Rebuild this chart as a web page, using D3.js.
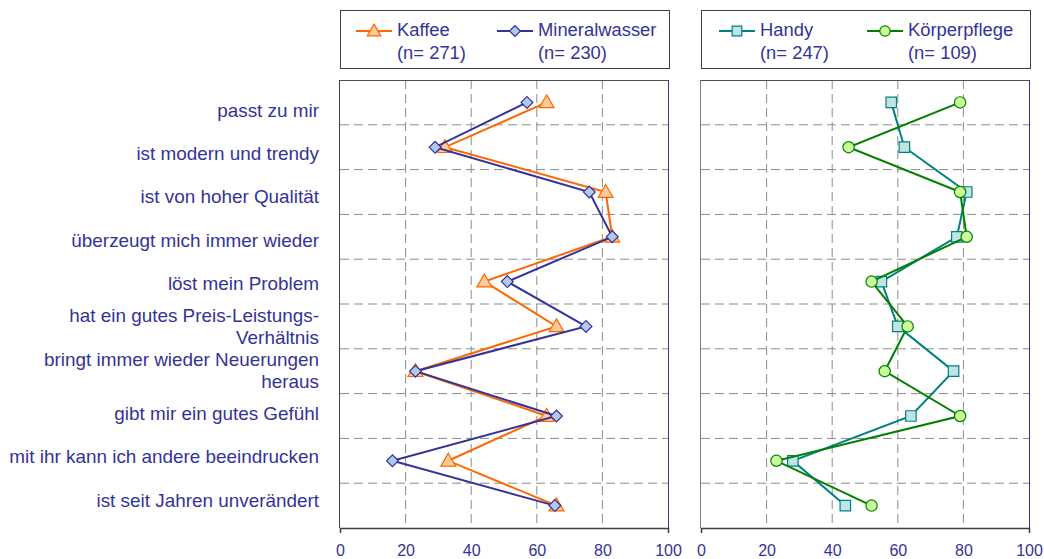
<!DOCTYPE html>
<html>
<head>
<meta charset="utf-8">
<script src="https://cdn.jsdelivr.net/npm/d3@7"></script>
<style>
    body { margin: 0; background: #fff; }
    text { font-family: "Liberation Sans", Arial, sans-serif; }
</style>
</head>
<body>
<script>
(function(){

    //categories (top to bottom)
    var categories = ["passt zu mir", "ist modern und trendy", "ist von hoher Qualität", "überzeugt mich immer wieder",
        "löst mein Problem", "hat ein gutes Preis-Leistungs-|Verhältnis", "bringt immer wieder Neuerungen|heraus",
        "gibt mir ein gutes Gefühl", "mit ihr kann ich andere beeindrucken", "ist seit Jahren unverändert"];

    //series values (percent)
    var kaffee = [63, 32, 81, 83, 44, 66, 23, 63, 33, 66];
    var mineralwasser = [57, 29, 76, 83, 51, 75, 23, 66, 16, 65.5];
    var handy = [58, 62, 81, 78, 55, 60, 77, 64, 28, 44];
    var koerperpflege = [79, 45, 79, 81, 52, 63, 56, 79, 23, 52];

    //legend texts
    var leftNames = ["Kaffee", "Mineralwasser"], leftN = ["(n= 271)", "(n= 230)"];
    var rightNames = ["Handy", "Körperpflege"], rightN = ["(n= 247)", "(n= 109)"];

    //axis ticks
    var xTicks = [0, 20, 40, 60, 80, 100];

    window.onload = setChart();

function setChart(){
    var width = 1044, height = 559;
    var top = 80, bottom = 528;
    var txtColor = "#333399";

    var svg = d3.select("body").append("svg")
        .attr("width", width)
        .attr("height", height);

    svg.append("rect").attr("width", width).attr("height", height).attr("fill", "#fff");

    //y band scale for the points, point scale for the labels
    var y = d3.scaleBand().domain(categories).range([top, bottom]);
    var yLab = d3.scalePoint().domain(categories).range([110, 500]);

    var xL = d3.scaleLinear().domain([0, 100]).range([340, 668]);
    var xR = d3.scaleLinear().domain([0, 100]).range([701, 1029]);

    //category labels (slightly stretched like the original)
    categories.forEach(function(c){
        var lines = c.split("|");
        lines.forEach(function(l, i){
            var ly = yLab(c) + 6.5 + (i - (lines.length - 1) / 2) * 22;
            svg.append("text")
                .attr("transform", "translate(319," + ly + ") scale(1.05,1)")
                .attr("text-anchor", "end")
                .attr("fill", txtColor)
                .attr("font-size", "18px")
                .text(l);
        });
    });

    drawPanel(svg, xL, y, top, bottom, "#404040");
    drawPanel(svg, xR, y, top, bottom, "#808080");

    drawSeries(svg, xL, y, kaffee, "#ff6600", "#ffcc99", "triangle");
    drawSeries(svg, xL, y, mineralwasser, "#333399", "#b4c8ec", "diamond");
    drawSeries(svg, xR, y, handy, "#008080", "#c0e4e4", "square");
    drawSeries(svg, xR, y, koerperpflege, "#008000", "#ccff99", "circle");

    //legends
    drawLegend(svg, xL, leftNames, leftN, [{c:"#ff6600", f:"#ffcc99", s:"triangle"}, {c:"#333399", f:"#b4c8ec", s:"diamond"}], [16, 157]);
    drawLegend(svg, xR, rightNames, rightN, [{c:"#008080", f:"#c0e4e4", s:"square"}, {c:"#008000", f:"#ccff99", s:"circle"}], [18, 166]);
};

function drawPanel(svg, x, y, top, bottom, leftColor){
    var g = svg.append("g");

    //vertical gridlines
    g.selectAll(".vgrid")
        .data(xTicks.slice(1, -1))
        .enter()
        .append("line")
        .attr("x1", function(d){ return x(d); })
        .attr("x2", function(d){ return x(d); })
        .attr("y1", top)
        .attr("y2", bottom)
        .attr("stroke", "#8c8c8c")
        .attr("stroke-dasharray", "9,5");

    //horizontal gridlines at band edges
    g.selectAll(".hgrid")
        .data(y.domain().slice(1))
        .enter()
        .append("line")
        .attr("x1", x(0))
        .attr("x2", x(100))
        .attr("y1", function(d){ return y(d); })
        .attr("y2", function(d){ return y(d); })
        .attr("stroke", "#8c8c8c")
        .attr("stroke-dasharray", "9,5");

    //frame
    g.append("line").attr("x1", x(0)).attr("x2", x(100)).attr("y1", top + 0.5).attr("y2", top + 0.5)
        .attr("stroke", "#505050");
    g.append("line").attr("x1", x(0) - 0.5).attr("x2", x(0) - 0.5).attr("y1", top).attr("y2", bottom)
        .attr("stroke", leftColor);
    g.append("line").attr("x1", x(100) + 0.5).attr("x2", x(100) + 0.5).attr("y1", top).attr("y2", bottom)
        .attr("stroke", "#333399");

    //bottom axis
    var axis = g.append("g")
        .attr("transform", "translate(0," + bottom + ")")
        .call(d3.axisBottom(x).tickValues(xTicks).tickSizeInner(0).tickSizeOuter(5).tickPadding(17));
    axis.select(".domain").attr("stroke", "#404040").attr("stroke-width", 1.5);
    axis.selectAll("text")
        .attr("fill", "#333399")
        .attr("font-size", "16px")
        .attr("font-family", "Liberation Sans, Arial, sans-serif");
};

function symbolPath(shape, size){
    var types = {triangle: d3.symbolTriangle, diamond: d3.symbolSquare, square: d3.symbolSquare, circle: d3.symbolCircle};
    return d3.symbol().type(types[shape]).size(size)();
};

function symbolSize(shape){
    return {triangle: 95, diamond: 70, square: 110, circle: 100}[shape];
};

function addMarker(g, shape, cx, cy, color, fill, scale){
    var p = g.append("path")
        .attr("d", symbolPath(shape, symbolSize(shape) * scale))
        .attr("fill", fill)
        .attr("stroke", color)
        .attr("stroke-width", 1.2);
    if (shape == "diamond"){
        p.attr("transform", "translate(" + cx + "," + cy + ") rotate(45)");
    } else if (shape == "triangle"){
        p.attr("transform", "translate(" + cx + "," + (cy + 1) + ")");
    } else {
        p.attr("transform", "translate(" + cx + "," + cy + ")");
    };
};

function drawSeries(svg, x, y, values, color, fill, shape){
    var half = y.bandwidth() / 2;
    var line = d3.line()
        .x(function(d){ return x(d); })
        .y(function(d, i){ return y(categories[i]) + half; });

    svg.append("path")
        .datum(values)
        .attr("d", line)
        .attr("fill", "none")
        .attr("stroke", color)
        .attr("stroke-width", 2);

    var g = svg.append("g");
    values.forEach(function(v, i){
        addMarker(g, shape, x(v), y(categories[i]) + half, color, fill, 1);
    });
};

function drawLegend(svg, x, names, ns, styles, offsets){
    var x0 = x(0), x1 = x(100) + 1;
    var g = svg.append("g");

    g.append("rect")
        .attr("x", x0 + 0.5)
        .attr("y", 10.5)
        .attr("width", x1 - x0)
        .attr("height", 58)
        .attr("fill", "#fff")
        .attr("stroke", "#404040");

    names.forEach(function(n, i){
        var lx = x0 + offsets[i];
        g.append("line")
            .attr("x1", lx).attr("x2", lx + 36)
            .attr("y1", 31).attr("y2", 31)
            .attr("stroke", styles[i].c)
            .attr("stroke-width", 2);
        addMarker(g, styles[i].s, lx + 18, 31, styles[i].c, styles[i].f, 0.85);
        g.append("text")
            .attr("transform", "translate(" + (lx + 41) + ",36) scale(1.05,1)")
            .attr("fill", "#333399")
            .attr("font-size", "17.5px")
            .text(n);
        g.append("text")
            .attr("transform", "translate(" + (lx + 41) + ",59) scale(1.05,1)")
            .attr("fill", "#333399")
            .attr("font-size", "17.5px")
            .text(ns[i]);
    });
};

})();
</script>
</body>
</html>
